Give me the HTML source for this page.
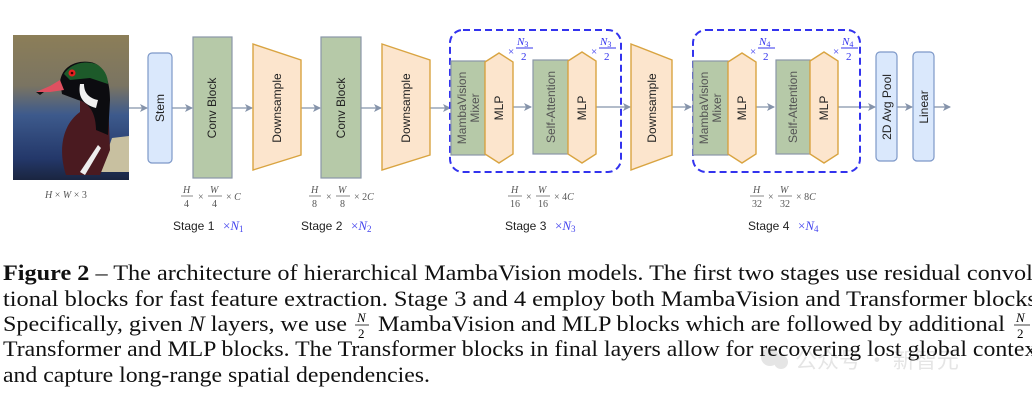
<!DOCTYPE html>
<html><head><meta charset="utf-8"><style>
html,body{margin:0;padding:0;background:#fff;width:1032px;height:400px;overflow:hidden}
svg{display:block}
.sf{font-family:"Liberation Sans",sans-serif;font-size:12px;fill:#222}
.mt{font-family:"Liberation Serif",serif;font-size:10px;fill:#555}
.mi{font-family:"Liberation Serif",serif;font-style:italic;font-size:10px;fill:#555}
.bl{font-family:"Liberation Serif",serif;font-size:13px;fill:#4444ee}
.cap{font-family:"Liberation Serif",serif;font-size:22px;fill:#111}
</style></head><body>
<svg width="1032" height="400" viewBox="0 0 1032 400" xmlns="http://www.w3.org/2000/svg">
<defs>
<linearGradient id="bg" x1="0" y1="0" x2="0" y2="1">
<stop offset="0" stop-color="#8c7e58"/><stop offset="0.35" stop-color="#7a7462"/><stop offset="0.55" stop-color="#3d5a8c"/><stop offset="0.85" stop-color="#24386a"/><stop offset="1" stop-color="#1a2540"/></linearGradient>
<marker id="ar" markerWidth="8" markerHeight="8" refX="7" refY="4" orient="auto" markerUnits="userSpaceOnUse"><path d="M0,0 L8,4 L0,8 L2,4 z" fill="#8593aa"/></marker>
</defs>
<!-- duck -->
<rect x="13" y="35" width="116" height="145" fill="url(#bg)"/>
<path d="M112,138 L129,136 L129,172 L100,172 Z" fill="#c8c0a0"/>
<path d="M66,175 C58,150 62,125 80,112 L80,100 L108,100 L110,150 L100,175 Z" fill="#4a1a20"/>
<path d="M60,82 C62,65 78,60 90,62 C104,64 110,80 110,100 L108,135 L96,130 C96,112 88,102 78,100 L62,94 Z" fill="#0c0c10"/>
<path d="M64,74 C70,64 84,60 96,64 C104,68 108,76 108,84 L90,78 L70,80 Z" fill="#1d5a2a"/>
<circle cx="72" cy="73" r="3.5" fill="#e52020"/><circle cx="72" cy="73" r="1.3" fill="#400"/>
<path d="M36,92 L50,86 L60,80 L64,90 L50,92 Z" fill="#e05060"/>
<path d="M36,92 L44,92 L40,95Z" fill="#111"/>
<path d="M80,84 C78,96 82,104 96,108 L98,100 C88,98 84,92 84,84Z" fill="#f0f0f0"/>
<path d="M80,172 L98,145 L101,148 L85,175Z" fill="#eee"/>
<text class="mi" x="45" y="198">H <tspan font-style="normal">×</tspan> W <tspan font-style="normal">× 3</tspan></text>
<!-- arrows -->
<g stroke="#8593aa" stroke-width="1.3" marker-end="url(#ar)">
<line x1="129" y1="108" x2="147" y2="108"/>
<line x1="172" y1="108" x2="192" y2="108"/>
<line x1="232" y1="108" x2="252" y2="108"/>
<line x1="301" y1="108" x2="320" y2="108"/>
<line x1="361" y1="108" x2="381" y2="108"/>
<line x1="430" y1="108" x2="450" y2="108"/>
<line x1="513" y1="107" x2="531" y2="107"/>
<line x1="596" y1="107" x2="630" y2="107"/>
<line x1="672" y1="107" x2="691" y2="107"/>
<line x1="756" y1="107" x2="774" y2="107"/>
<line x1="838" y1="107" x2="875" y2="107"/>
<line x1="897" y1="107" x2="912" y2="107"/>
<line x1="934" y1="107" x2="950" y2="107"/>
</g>
<!-- stem -->
<rect x="148" y="53" width="24" height="110" rx="4" fill="#dae8fc" stroke="#7d98c8" stroke-width="1.2"/>
<text class="sf" transform="translate(164,108) rotate(-90)" text-anchor="middle">Stem</text>
<!-- conv blocks -->
<rect x="193" y="37" width="39" height="141" fill="#b6c9a8" stroke="#8a97a8" stroke-width="1.2"/>
<text class="sf" transform="translate(216,108) rotate(-90)" text-anchor="middle">Conv Block</text>
<rect x="321" y="37" width="40" height="141" fill="#b6c9a8" stroke="#8a97a8" stroke-width="1.2"/>
<text class="sf" transform="translate(345,108) rotate(-90)" text-anchor="middle">Conv Block</text>
<!-- downsamples -->
<g fill="#fce5cd" stroke="#d9a441" stroke-width="1.4">
<polygon points="253,44 301,60 301,155 253,170"/>
<polygon points="382,44 430,60 430,155 382,170"/>
<polygon points="631,44 672,60 672,155 631,170"/>
</g>
<text class="sf" transform="translate(281,108) rotate(-90)" text-anchor="middle">Downsample</text>
<text class="sf" transform="translate(410,108) rotate(-90)" text-anchor="middle">Downsample</text>
<text class="sf" transform="translate(656,108) rotate(-90)" text-anchor="middle">Downsample</text>
<!-- dashed boxes -->
<rect x="450" y="30" width="171" height="142" rx="13" fill="none" stroke="#3333ee" stroke-width="2" stroke-dasharray="7,4"/>
<rect x="693" y="30" width="167" height="142" rx="13" fill="none" stroke="#3333ee" stroke-width="2" stroke-dasharray="7,4"/>
<!-- stage blocks -->
<g stroke="#8a97a8" stroke-width="1.2" fill="#b6c9a8">
<rect x="451" y="61" width="34" height="94"/>
<rect x="533" y="60" width="35" height="94"/>
<rect x="693" y="61" width="35" height="94"/>
<rect x="776" y="60" width="34" height="94"/>
</g>
<g fill="#fce5cd" stroke="#d9a441" stroke-width="1.4">
<polygon points="485,62 499,53 513,62 513,154 499,163 485,154"/>
<polygon points="568,61 582,52 596,61 596,154 582,163 568,154"/>
<polygon points="728,62 742,53 756,62 756,154 742,163 728,154"/>
<polygon points="810,61 824,52 838,61 838,154 824,163 810,154"/>
</g>
<g class="sf" style="fill:#555">
<text transform="translate(466,108) rotate(-90)" text-anchor="middle">MambaVision</text>
<text transform="translate(479,108) rotate(-90)" text-anchor="middle">Mixer</text>
<text transform="translate(708,108) rotate(-90)" text-anchor="middle">MambaVision</text>
<text transform="translate(721,108) rotate(-90)" text-anchor="middle">Mixer</text>
<text transform="translate(555,107) rotate(-90)" text-anchor="middle">Self-Attention</text>
<text transform="translate(797,107) rotate(-90)" text-anchor="middle">Self-Attention</text>
</g>
<text class="sf" transform="translate(503,108) rotate(-90)" text-anchor="middle">MLP</text>
<text class="sf" transform="translate(586,108) rotate(-90)" text-anchor="middle">MLP</text>
<text class="sf" transform="translate(746,108) rotate(-90)" text-anchor="middle">MLP</text>
<text class="sf" transform="translate(828,108) rotate(-90)" text-anchor="middle">MLP</text>
<!-- xN/2 -->
<g font-family="Liberation Serif,serif" font-size="11" fill="#3333ee">
<text x="508" y="55">×</text><text x="517" y="45" font-style="italic">N<tspan font-size="8" font-style="normal" dy="2">3</tspan></text><line x1="516" y1="48" x2="533" y2="48" stroke="#3333ee"/><text x="521" y="60">2</text>
<text x="591" y="55">×</text><text x="600" y="45" font-style="italic">N<tspan font-size="8" font-style="normal" dy="2">3</tspan></text><line x1="599" y1="48" x2="616" y2="48" stroke="#3333ee"/><text x="604" y="60">2</text>
<text x="750" y="55">×</text><text x="759" y="45" font-style="italic">N<tspan font-size="8" font-style="normal" dy="2">4</tspan></text><line x1="758" y1="48" x2="775" y2="48" stroke="#3333ee"/><text x="763" y="60">2</text>
<text x="833" y="55">×</text><text x="842" y="45" font-style="italic">N<tspan font-size="8" font-style="normal" dy="2">4</tspan></text><line x1="841" y1="48" x2="858" y2="48" stroke="#3333ee"/><text x="846" y="60">2</text>
</g>
<!-- head -->
<rect x="876" y="52" width="21" height="109" rx="4" fill="#dae8fc" stroke="#7d98c8" stroke-width="1.2"/>
<text class="sf" transform="translate(891,107) rotate(-90)" text-anchor="middle">2D Avg Pool</text>
<rect x="913" y="52" width="21" height="109" rx="4" fill="#dae8fc" stroke="#7d98c8" stroke-width="1.2"/>
<text class="sf" transform="translate(928,107) rotate(-90)" text-anchor="middle">Linear</text>
<!-- fractions -->
<g class="mt">
<g transform="translate(181,0)"><text x="2" y="193" font-style="italic">H</text><line x1="0" y1="196" x2="12" y2="196" stroke="#555" stroke-width="0.7"/><text x="3" y="207">4</text><text x="17" y="200">×</text><text x="29" y="193" font-style="italic">W</text><line x1="27" y1="196" x2="41" y2="196" stroke="#555" stroke-width="0.7"/><text x="31" y="207">4</text><text x="45" y="200">× <tspan font-style="italic">C</tspan></text></g>
<g transform="translate(309,0)"><text x="2" y="193" font-style="italic">H</text><line x1="0" y1="196" x2="12" y2="196" stroke="#555" stroke-width="0.7"/><text x="3" y="207">8</text><text x="17" y="200">×</text><text x="29" y="193" font-style="italic">W</text><line x1="27" y1="196" x2="41" y2="196" stroke="#555" stroke-width="0.7"/><text x="31" y="207">8</text><text x="45" y="200">× 2<tspan font-style="italic">C</tspan></text></g>
<g transform="translate(508,0)"><text x="3" y="193" font-style="italic">H</text><line x1="0" y1="196" x2="14" y2="196" stroke="#555" stroke-width="0.7"/><text x="2" y="207">16</text><text x="18" y="200">×</text><text x="30" y="193" font-style="italic">W</text><line x1="28" y1="196" x2="42" y2="196" stroke="#555" stroke-width="0.7"/><text x="30" y="207">16</text><text x="46" y="200">× 4<tspan font-style="italic">C</tspan></text></g>
<g transform="translate(750,0)"><text x="3" y="193" font-style="italic">H</text><line x1="0" y1="196" x2="14" y2="196" stroke="#555" stroke-width="0.7"/><text x="2" y="207">32</text><text x="18" y="200">×</text><text x="30" y="193" font-style="italic">W</text><line x1="28" y1="196" x2="42" y2="196" stroke="#555" stroke-width="0.7"/><text x="30" y="207">32</text><text x="46" y="200">× 8<tspan font-style="italic">C</tspan></text></g>
</g>
<!-- stage labels -->
<text class="sf" x="173" y="230">Stage 1</text><text class="bl" x="223" y="230">×<tspan font-style="italic">N</tspan><tspan font-size="9" dy="2">1</tspan></text>
<text class="sf" x="301" y="230">Stage 2</text><text class="bl" x="351" y="230">×<tspan font-style="italic">N</tspan><tspan font-size="9" dy="2">2</tspan></text>
<text class="sf" x="505" y="230">Stage 3</text><text class="bl" x="555" y="230">×<tspan font-style="italic">N</tspan><tspan font-size="9" dy="2">3</tspan></text>
<text class="sf" x="748" y="230">Stage 4</text><text class="bl" x="798" y="230">×<tspan font-style="italic">N</tspan><tspan font-size="9" dy="2">4</tspan></text>
<!-- watermark -->
<g opacity="0.25" fill="#999">
<circle cx="770" cy="357" r="9"/><circle cx="781" cy="362" r="7"/>
<text x="795" y="368" font-family="Noto Sans CJK SC,sans-serif" font-size="22">公众号 · 新智元</text>
</g>
<!-- caption -->
<text class="cap" x="3" y="280" textLength="1050" lengthAdjust="spacingAndGlyphs"><tspan font-weight="bold">Figure 2</tspan> – The architecture of hierarchical MambaVision models. The first two stages use residual convolu-</text>
<text class="cap" x="3" y="306" textLength="1040" lengthAdjust="spacingAndGlyphs">tional blocks for fast feature extraction. Stage 3 and 4 employ both MambaVision and Transformer blocks.</text>
<text class="cap" x="3" y="331" textLength="344" lengthAdjust="spacingAndGlyphs">Specifically, given <tspan font-style="italic">N</tspan> layers, we use</text>
<text font-family="Liberation Serif,serif" font-size="13" font-style="italic" x="357" y="322">N</text><line x1="355" y1="325" x2="369" y2="325" stroke="#111" stroke-width="0.8"/><text font-family="Liberation Serif,serif" font-size="13" x="358" y="338">2</text>
<text class="cap" x="378" y="331" textLength="627" lengthAdjust="spacingAndGlyphs">MambaVision and MLP blocks which are followed by additional</text>
<text font-family="Liberation Serif,serif" font-size="13" font-style="italic" x="1016" y="322">N</text><line x1="1014" y1="325" x2="1030" y2="325" stroke="#111" stroke-width="0.8"/><text font-family="Liberation Serif,serif" font-size="13" x="1017" y="338">2</text>
<text class="cap" x="3" y="356" textLength="1040" lengthAdjust="spacingAndGlyphs">Transformer and MLP blocks. The Transformer blocks in final layers allow for recovering lost global context</text>
<text class="cap" x="3" y="382" textLength="427" lengthAdjust="spacingAndGlyphs">and capture long-range spatial dependencies.</text>
</svg>
</body></html>
